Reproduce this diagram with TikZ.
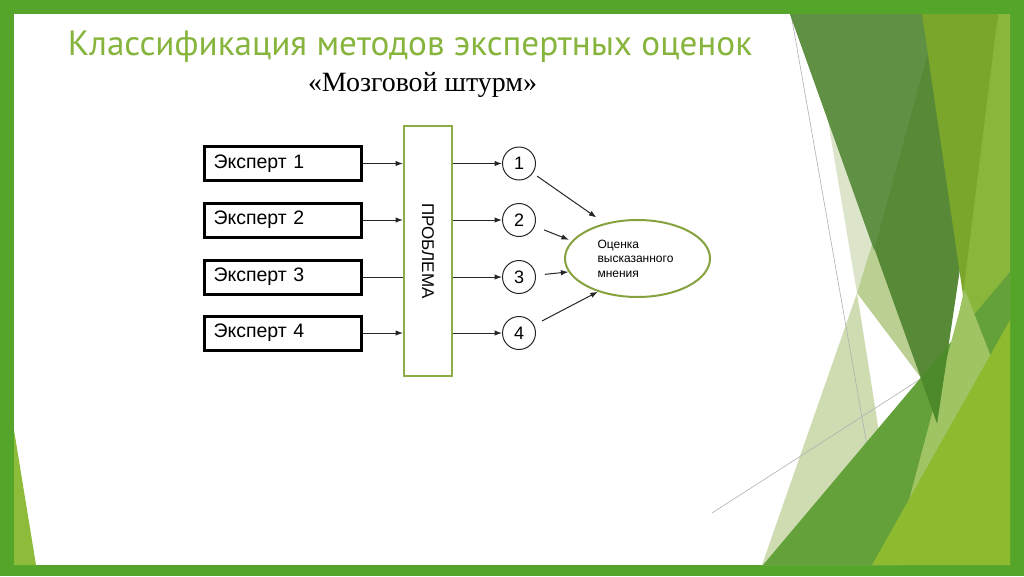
\documentclass[tikz,border=0pt]{standalone}
\usepackage{fontspec}
\usepackage{graphicx}
\usetikzlibrary{arrows.meta,shapes.geometric}
\newfontfamily\ttlfont{PT Sans}
\newfontfamily\arf{Liberation Sans}
\newfontfamily\tmf{Liberation Serif}
\definecolor{frameg}{HTML}{55A52B}
\definecolor{titleg}{HTML}{86B43C}
\definecolor{probg}{HTML}{8AAE45}
\definecolor{ellg}{HTML}{85A23F}
\definecolor{linec}{HTML}{262626}
\definecolor{cLight}{HTML}{8AB73B}
\definecolor{cPD}{HTML}{DCE5C9}
\definecolor{cPU}{HTML}{CFDCB2}
\definecolor{cMP}{HTML}{BBCF92}
\definecolor{cMed}{HTML}{64A13A}
\definecolor{cLT}{HTML}{A0C464}
\definecolor{cLime}{HTML}{8DBA2F}
\definecolor{cDark}{HTML}{578937}
\definecolor{cDarkL}{HTML}{5F9043}
\definecolor{cOver}{HTML}{4D8A2B}
\definecolor{cOlive}{HTML}{7AA62B}
\definecolor{cTri}{HTML}{8DBB3A}
\definecolor{cGray}{HTML}{B0B0B0}
\begin{document}
\begin{tikzpicture}[x=1pt,y=-1pt,
  expert/.style={draw=black, line width=3pt, minimum width=157pt, minimum height=34pt,
    inner sep=0pt, text width=139pt, align=left, font=\arf\fontsize{19.5}{22}\selectfont},
  probbox/.style={draw=probg, line width=2pt, minimum width=48pt, minimum height=250pt, inner sep=0pt},
  num/.style={circle, draw=linec, line width=1pt, minimum size=33pt, inner sep=0pt,
    font=\arf\fontsize{18}{20}\selectfont},
  ell/.style={ellipse, draw=ellg, line width=2pt, minimum width=145pt, minimum height=77pt,
    inner sep=0pt, text width=80pt, align=left, font=\arf\fontsize{12}{14.5}\selectfont},
  ln/.style={draw=linec, line width=1pt},
  arr/.style={ln, -{Latex[length=7.5pt,width=5.5pt]}},
  gline/.style={draw=cGray, line width=0.6pt}]
\useasboundingbox (0,0) rectangle (1024,576);
\fill[frameg] (0,0) rectangle (1024,576);
\fill[white] (14,14) rectangle (1010,565);
\begin{scope}
\clip (14,14) rectangle (1010,565);
\fill[cTri] (14,430) -- (14,565) -- (36,565) -- cycle;
\fill[cLight] (990,14) -- (1010,14) -- (1010,565) -- (900,565) -- (937,423) -- (963,295) -- cycle;
\fill[cPD] (810,14) -- (950,14) -- (857,293) -- cycle;
\fill[cPU] (857,293) -- (762,565) -- (900,565) -- cycle;
\fill[cMP] (874,238) -- (857,293) -- (921,378) -- cycle;
\draw[gline] (791,14) -- (888,565);
\draw[gline] (712,513) -- (922,378);
\fill[cMed] (763,565) -- (1010,565) -- (1010,272) -- cycle;
\fill[cLT] (965,290) -- (905,515) -- (1000,380) -- cycle;
\fill[cLime] (872,565) -- (1010,565) -- (1010,320) -- cycle;
\fill[cDark] (790,14) -- (998,14) -- (937,423) -- cycle;
\fill[cDarkL] (790,14) -- (925,14) -- (932,38) -- (874,250) -- cycle;
\fill[cOver] (920.8,378.2) -- (948.7,345) -- (937,423) -- cycle;
\fill[cOlive] (922,14) -- (998,14) -- (963,295) -- cycle;
\end{scope}
% titles
\node[anchor=base, inner sep=0pt] (title) at (410,55)
  {\resizebox{684pt}{!}{\ttlfont\color{titleg}Классификация методов экспертных оценок}};
\node[anchor=base, inner sep=0pt] (subtitle) at (422.5,91)
  {\resizebox{229pt}{!}{\tmf «Мозговой штурм»}};
% experts
\node[expert] (x1) at (283,163.5) {Эксперт 1};
\node[expert] (x2) at (283,220) {Эксперт 2};
\node[expert] (x3) at (283,277) {Эксперт 3};
\node[expert] (x4) at (283,333) {Эксперт 4};
% problem
\node[probbox] (pr) at (428,251) {};
\node[rotate=-90, inner sep=0pt, font=\arf\fontsize{17}{20}\selectfont] (prt) at (pr) {ПРОБЛЕМА};
% circles
\node[num] (c1) at (519,163.5) {1};
\node[num] (c2) at (519,220) {2};
\node[num] (c3) at (519,277) {3};
\node[num] (c4) at (519,333) {4};
% ellipse
\node[ell] (e) at (637.5,258.5) {Оценка\\высказанного\\мнения};
% connectors
\draw[arr] (x1.east) -- (x1.east -| pr.west);
\draw[arr] (x2.east) -- (x2.east -| pr.west);
\draw[ln] (x3.east) -- (x3.east -| pr.west);
\draw[arr] (x4.east) -- (x4.east -| pr.west);
\draw[arr] (c1 -| pr.east) -- (c1);
\draw[arr] (c2 -| pr.east) -- (c2);
\draw[arr] (c3 -| pr.east) -- (c3);
\draw[arr] (c4 -| pr.east) -- (c4);
\draw[arr, shorten <=5pt, shorten >=10pt] (c1) -- (e.133);
\draw[arr, shorten <=10pt, shorten >=3pt] (c2) -- (e.165);
\draw[arr, shorten <=9pt] (c3) -- (e.191);
\draw[arr, shorten <=9pt] (c4) -- (e.220);
\end{tikzpicture}
\end{document}
